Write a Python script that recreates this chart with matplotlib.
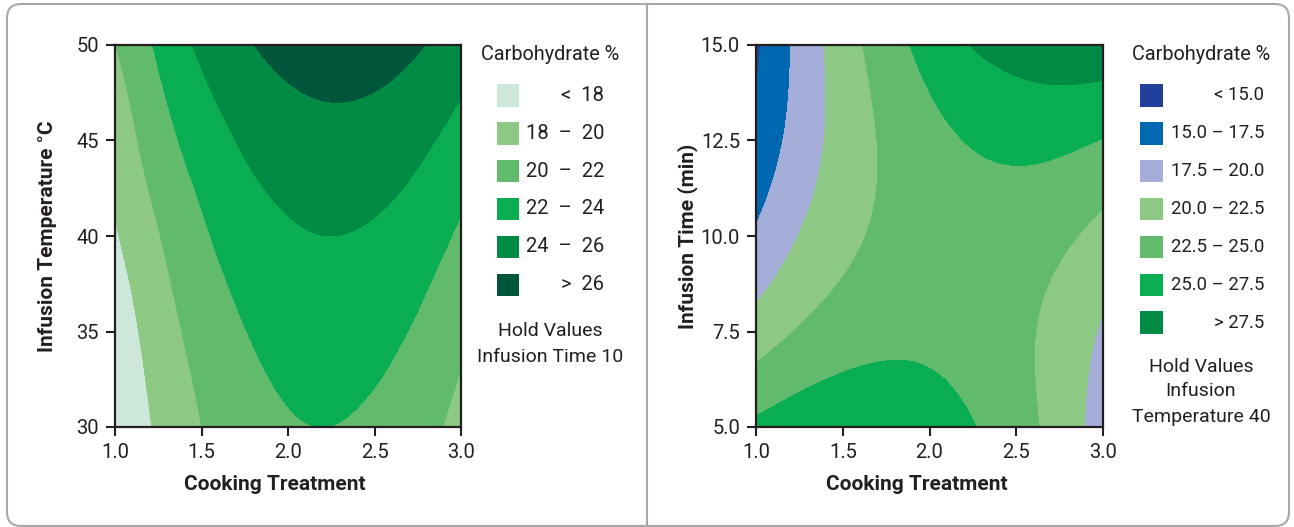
import numpy as np
import matplotlib
matplotlib.use("Agg")
import matplotlib.pyplot as plt
import matplotlib.tri as mtri
import matplotlib.ticker as ticker
from matplotlib.patches import Rectangle, FancyBboxPatch
from matplotlib.lines import Line2D

plt.rcParams['font.family'] = ['Roboto', 'DejaVu Sans']

# ---- data ----
# left: carbohydrate % over cooking treatment x infusion temperature (time held at 10)
cook = [1.0, 1.25, 1.5, 1.75, 2.0, 2.25, 2.5, 2.75, 3.0]
temp = [30, 35, 40, 45, 50]
carb_temp = [
    [16.10, 18.30, 19.99, 21.17, 21.84, 21.99, 21.63, 20.76, 19.38],
    [16.72, 18.98, 20.72, 21.95, 22.67, 22.87, 22.57, 21.75, 20.41],
    [17.80, 19.90, 21.69, 22.98, 23.74, 24.00, 23.74, 22.98, 21.69],
    [18.71, 21.07, 22.91, 24.25, 25.07, 25.37, 25.17, 24.45, 23.22],
    [19.95, 22.30, 24.38, 25.76, 26.63, 26.99, 26.84, 26.17, 24.99],
]
levels_temp = [0, 18, 20, 22, 24, 26, 40]
labels_temp = ["<  18", "18  \u2013  20", "20  \u2013  22", "22  \u2013  24",
               "24  \u2013  26", ">  26"]
colors_temp = ['#cde8da', '#8dc985', '#62bb6c', '#09ad52', '#008b45', '#00563a']

# right: carbohydrate % over cooking treatment x infusion time (temperature held at 40)
itime = [5.0, 7.5, 10.0, 12.5, 15.0]
carb_time = [
    [25.55, 26.46, 26.88, 26.79, 26.20, 25.11, 23.53, 21.44, 18.85],
    [21.12, 22.69, 23.77, 24.34, 24.42, 23.99, 23.07, 21.64, 19.72],
    [17.82, 20.06, 21.80, 23.03, 23.77, 24.01, 23.75, 22.98, 21.72],
    [15.66, 18.56, 20.96, 22.86, 24.26, 25.16, 25.60, 25.52, 24.90],
    [14.63, 18.19, 21.26, 23.82, 25.88, 27.60, 28.51, 29.07, 29.13],
]
levels_time = [0, 15, 17.5, 20, 22.5, 25, 27.5, 40]
labels_time = ["< 15.0", "15.0 \u2013 17.5", "17.5 \u2013 20.0", "20.0 \u2013 22.5",
               "22.5 \u2013 25.0", "25.0 \u2013 27.5", "> 27.5"]
colors_time = ['#22409a', '#0067b1', '#a4aed8', '#8dc985', '#62bb6c', '#09ad52', '#008b45']

W, H = 1294, 527
ink = '#231f20'


def fx(px):
    return px / W


def fy(py):
    return 1 - py / H


def grid_tri(xs, ys):
    X, Y = np.meshgrid(xs, ys)
    nx = len(xs)
    tris = []
    for j in range(len(ys) - 1):
        for i in range(nx - 1):
            a = j * nx + i
            tris.append([a, a + 1, a + nx + 1])
            tris.append([a, a + nx + 1, a + nx])
    return mtri.Triangulation(X.ravel(), Y.ravel(), np.array(tris))


def panel(ax, xs, ys, zz, levels, colors, yticks, yfmt, ylabel):
    tri = grid_tri(xs, ys)
    refiner = mtri.UniformTriRefiner(tri)
    tri_f, z_f = refiner.refine_field(np.array(zz).ravel(), subdiv=4)
    ax.tricontourf(tri_f, z_f, levels=levels, colors=colors)
    ax.set_xlim(1, 3)
    ax.set_ylim(ys[0], ys[-1])
    ax.set_xticks([1.0, 1.5, 2.0, 2.5, 3.0])
    ax.xaxis.set_major_formatter(ticker.FormatStrFormatter('%.1f'))
    ax.set_yticks(yticks)
    ax.yaxis.set_major_formatter(ticker.FormatStrFormatter(yfmt))
    ax.tick_params(direction='out', length=6.5, width=1.5, labelsize=14.5,
                   colors=ink, pad=5)
    for s in ax.spines.values():
        s.set_linewidth(1.6)
        s.set_color(ink)
    ax.set_xlabel("Cooking Treatment", fontsize=15, fontweight='bold', color=ink)
    ax.set_ylabel(ylabel, fontsize=15, fontweight='bold', color=ink)
    ax.xaxis.set_label_coords(0.462, -0.125)
    ax.yaxis.set_label_coords(-0.168, 0.5)


def legend(fig, x_patch, x_text, x_mid, labels, colors, notes, note_y, lab_size):
    fig.text(fx(x_mid), fy(55), "Carbohydrate %", ha='center', va='center',
             fontsize=14.3, color=ink)
    for k, (lab, col) in enumerate(zip(labels, colors)):
        yc = 95.3 + 37.9 * k
        fig.patches.append(Rectangle((fx(x_patch), fy(yc + 11.3)), 22.5 / W, 22.6 / H,
                                     transform=fig.transFigure, facecolor=col,
                                     edgecolor='none'))
        fig.text(fx(x_text), fy(yc), lab, ha='right', va='center',
                 fontsize=lab_size, color=ink)
    for k, note in enumerate(notes):
        fig.text(fx(x_mid), fy(note_y + 25 * k), note, ha='center', va='center',
                 fontsize=14, color=ink)


fig = plt.figure(figsize=(W / 100, H / 100), dpi=100)

ax1 = fig.add_axes([fx(115), fy(427), 346 / W, 382 / H])
panel(ax1, cook, temp, carb_temp, levels_temp, colors_temp,
      [30, 35, 40, 45, 50], '%d', "Infusion Temperature \u00b0C")

ax2 = fig.add_axes([fx(756), fy(427), 347 / W, 382 / H])
panel(ax2, cook, itime, carb_time, levels_time, colors_time,
      [5.0, 7.5, 10.0, 12.5, 15.0], '%.1f', "Infusion Time (min)")

legend(fig, 496.5, 604, 550, labels_temp, colors_temp,
       ["Hold Values", "Infusion Time 10"], 331.5, 14.5)
legend(fig, 1140, 1264, 1201, labels_time, colors_time,
       ["Hold Values", "Infusion", "Temperature 40"], 366.5, 13.3)

# rounded frame and divider
frame = FancyBboxPatch((7, 1), 1282, 522, boxstyle="round,pad=0,rounding_size=14",
                       transform=None, facecolor='none', edgecolor='#a8a8a8',
                       linewidth=1.5)
fig.patches.append(frame)
fig.lines.append(Line2D([647, 647], [1, 523], transform=None, color='#a8a8a8',
                        linewidth=1.5))

fig.savefig("out.png", dpi=100)
